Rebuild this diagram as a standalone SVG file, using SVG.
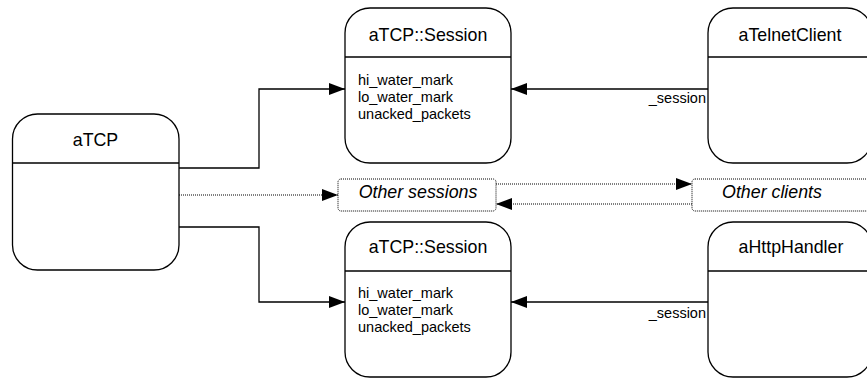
<svg xmlns="http://www.w3.org/2000/svg" width="867" height="380" viewBox="0 0 867 380">
  <style>
    .box { fill: #fff; stroke: #000; stroke-width: 1.3; }
    .div { stroke: #000; stroke-width: 1.3; }
    .note { fill: #fff; stroke: #000; stroke-width: 1; stroke-dasharray: 1 1; }
    .title { font-family: "Liberation Sans", Arial, sans-serif; font-size: 17.8px; text-anchor: middle; fill: #000; }
    .attr { font-family: "Liberation Sans", Arial, sans-serif; font-size: 14.5px; fill: #000; }
    .role { font-family: "Liberation Sans", Arial, sans-serif; font-size: 14.5px; text-anchor: end; fill: #000; }
    .ital { font-family: "Liberation Sans", Arial, sans-serif; font-size: 17.8px; font-style: italic; text-anchor: middle; fill: #000; }
    .link { fill: none; stroke: #000; stroke-width: 1.3; }
    .dot { fill: none; stroke: #000; stroke-width: 1; stroke-dasharray: 1 1; }
  </style>
  <defs>
    <marker id="arrow" markerUnits="userSpaceOnUse" markerWidth="17" markerHeight="12" refX="16" refY="6" orient="auto">
      <path d="M0,0 L16,6 L0,12 Z" fill="#000"/>
    </marker>
  </defs>

  <rect width="867" height="380" fill="#fff"/>

  <g id="connectors">
    <polyline class="link" points="179,168 259,168 259,89 345,89" marker-end="url(#arrow)"/>
    <polyline class="link" points="179,227 259,227 259,302 345,302" marker-end="url(#arrow)"/>
    <line class="dot" x1="179" y1="195" x2="338" y2="195" marker-end="url(#arrow)"/>
    <line class="dot" x1="496" y1="184" x2="692" y2="184" marker-end="url(#arrow)"/>
    <line class="dot" x1="692" y1="204" x2="496" y2="204" marker-end="url(#arrow)"/>
    <line class="link" x1="708" y1="89" x2="511" y2="89" marker-end="url(#arrow)"/>
    <line class="link" x1="712" y1="302" x2="511" y2="302" marker-end="url(#arrow)"/>
    <text class="role" x="706" y="103">_session</text>
    <text class="role" x="706" y="318">_session</text>
  </g>

  <g id="aTCP">
    <rect class="box" x="12.5" y="114" width="166.5" height="156" rx="25" ry="25"/>
    <line class="div" x1="12.5" y1="163" x2="179" y2="163"/>
    <text class="title" x="95.5" y="146">aTCP</text>
  </g>

  <g id="session1">
    <rect class="box" x="345" y="8" width="166" height="155" rx="25" ry="25"/>
    <line class="div" x1="345" y1="57" x2="511" y2="57"/>
    <text class="title" x="428" y="41">aTCP::Session</text>
    <text class="attr" x="358" y="85">hi_water_mark</text>
    <text class="attr" x="358" y="102">lo_water_mark</text>
    <text class="attr" x="358" y="119">unacked_packets</text>
  </g>

  <g id="session2">
    <rect class="box" x="345" y="222" width="166" height="155" rx="25" ry="25"/>
    <line class="div" x1="345" y1="271" x2="511" y2="271"/>
    <text class="title" x="428" y="253">aTCP::Session</text>
    <text class="attr" x="358" y="298">hi_water_mark</text>
    <text class="attr" x="358" y="315">lo_water_mark</text>
    <text class="attr" x="358" y="332">unacked_packets</text>
  </g>

  <g id="telnetClient">
    <rect class="box" x="708" y="8" width="164" height="155" rx="25" ry="25"/>
    <line class="div" x1="708" y1="57" x2="872" y2="57"/>
    <text class="title" x="790" y="41">aTelnetClient</text>
  </g>

  <g id="httpHandler">
    <rect class="box" x="708" y="222" width="164" height="155" rx="25" ry="25"/>
    <line class="div" x1="708" y1="271" x2="872" y2="271"/>
    <text class="title" x="791" y="253">aHttpHandler</text>
  </g>

  <g id="otherSessions">
    <rect class="note" x="338" y="179" width="158" height="32" rx="3" ry="3"/>
    <text class="ital" x="418" y="198">Other sessions</text>
  </g>

  <g id="otherClients">
    <rect class="note" x="692" y="179" width="180" height="32" rx="3" ry="3"/>
    <text class="ital" x="772" y="198">Other clients</text>
  </g>
</svg>
